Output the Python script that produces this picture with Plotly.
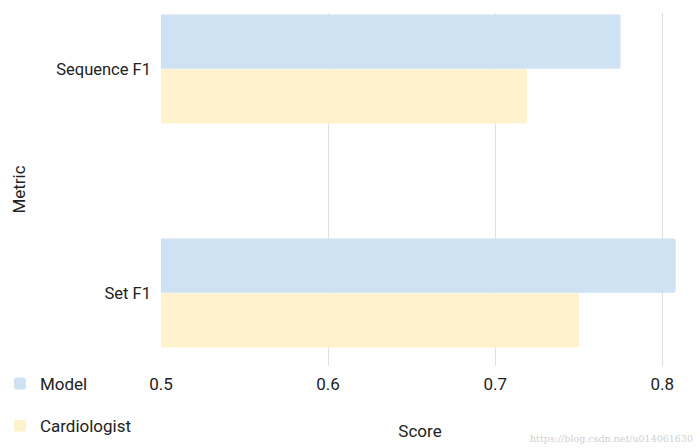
import plotly.graph_objects as go

metrics = ["Sequence F1", "Set F1"]
model_scores = [0.775, 0.808]
cardiologist_scores = [0.719, 0.750]
series_names = ["Model", "Cardiologist"]
x_ticks = [0.5, 0.6, 0.7, 0.8]
x_tick_labels = ["0.5", "0.6", "0.7", "0.8"]

font_family = "Roboto, Arial, sans-serif"
text_color = "#222222"

fig = go.Figure()
fig.add_trace(go.Bar(
    y=metrics, x=model_scores, name=series_names[0], orientation="h",
    marker=dict(color="#cfe2f3", line=dict(width=0), cornerradius=2),
    legendgroup="a",
))
fig.add_trace(go.Bar(
    y=metrics, x=cardiologist_scores, name=series_names[1], orientation="h",
    marker=dict(color="#fff2cc", line=dict(width=0), cornerradius=2),
    legendgroup="b",
))

fig.update_layout(
    width=700, height=448,
    margin=dict(l=161, r=21, t=13, b=82, autoexpand=False),
    paper_bgcolor="white", plot_bgcolor="white",
    barmode="group", bargap=0.51, bargroupgap=0.01,
    font=dict(family=font_family, size=17, color=text_color),
    showlegend=True,
    legend=dict(
        x=-0.311, xanchor="left", y=0.0, yanchor="top",
        orientation="v", traceorder="grouped", tracegroupgap=17,
        font=dict(size=17, color=text_color),
        bgcolor="rgba(0,0,0,0)",
    ),
    xaxis=dict(
        range=[0.5, 0.81], tickvals=x_ticks, ticktext=x_tick_labels,
        showgrid=True, gridcolor="#e0e0e0", gridwidth=1,
        zeroline=False, showline=False, ticks="", automargin=False,
        ticklabelstandoff=6, tickfont=dict(size=17),
        title=dict(text="Score", font=dict(size=17, color=text_color), standoff=32),
    ),
    yaxis=dict(
        type="category", categoryorder="array", categoryarray=metrics,
        range=[1.326, -0.25], automargin=False,
        showgrid=False, zeroline=False, showline=False, ticks="",
        ticklabelstandoff=9, tickfont=dict(size=16.5),
        title=dict(text="Metric", font=dict(size=17, color=text_color), standoff=26),
    ),
)

fig.add_annotation(
    text="https://blog.csdn.net/u014061630", xref="paper", yref="paper",
    x=1.03, y=-0.205, xanchor="right", yanchor="middle", showarrow=False,
    font=dict(family="DejaVu Serif, serif", size=9.5, color="#d0d0d0"),
)

fig.write_html("out.html")
